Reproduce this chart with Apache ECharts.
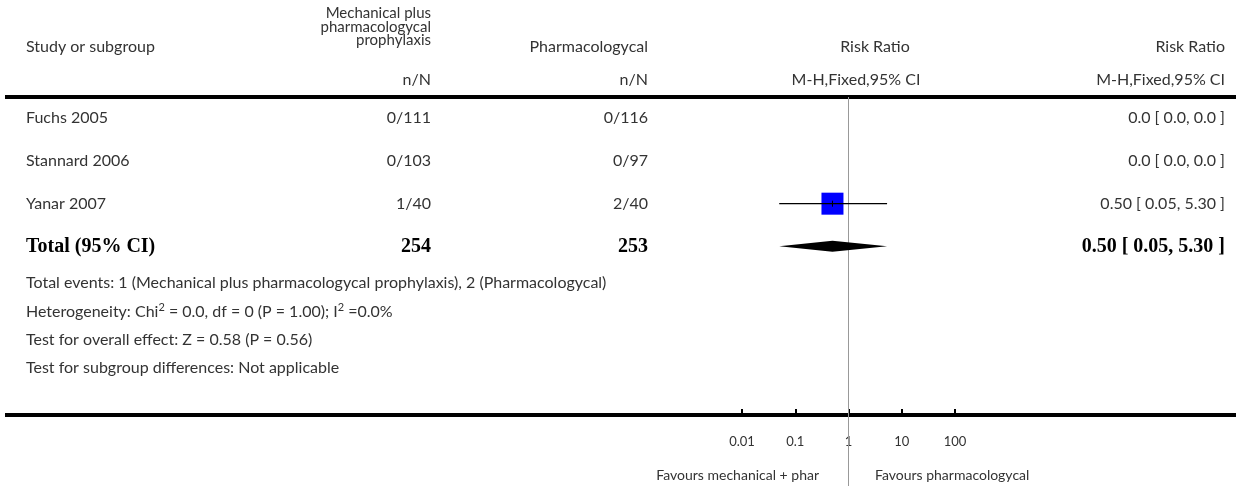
<!DOCTYPE html>
<html>
<head>
<meta charset="utf-8">
<script src="https://cdn.jsdelivr.net/npm/echarts@6/dist/echarts.min.js"></script>
<style>
  html, body { margin: 0; padding: 0; background: #fff; }
  #chart { width: 1236px; height: 486px; }
</style>
</head>
<body>
<div id="chart"></div>
<script>
// data
const studies = ["Fuchs 2005", "Stannard 2006", "Yanar 2007"];
const mechEvents = [0, 0, 1];
const mechTotal = [111, 103, 40];
const pharmEvents = [0, 0, 2];
const pharmTotal = [116, 97, 40];
const riskRatio = [null, null, 0.5];
const ciLow = [null, null, 0.05];
const ciHigh = [null, null, 5.3];

const totalMech = 254;
const totalPharm = 253;
const pooled = [0.5, 0.05, 5.3]; // estimate, low, high

const xTicks = [0.01, 0.1, 1, 10, 100];
const footnotes = [
  "Total events: 1 (Mechanical plus pharmacologycal prophylaxis), 2 (Pharmacologycal)",
  "Heterogeneity: Chi{sup|2} = 0.0, df = 0 (P = 1.00); I{sup|2} =0.0%",
  "Test for overall effect: Z = 0.58 (P = 0.56)",
  "Test for subgroup differences: Not applicable"
];

// layout
const FONT = "Lato";
const TXT = "#333";
const ROW_H = 42.67;
const GRID_TOP = 97;
const GRID_BOTTOM_Y = 415;
const colName = 26, colMech = 431, colPharm = 648, colCI = 1225;

function fmt(v, d) { return v == null ? "0.0" : v.toFixed(d); }
function ciLabel(e, l, h) {
  if (e == null) return "0.0 [ 0.0, 0.0 ]";
  return fmt(e, 2) + " [ " + fmt(l, 2) + ", " + fmt(h, 2) + " ]";
}

const rowData = studies.map((s, i) => [1, i + 0.5, i]);
const totalRow = studies.length + 0.5;
const forestData = [];
riskRatio.forEach((v, i) => {
  if (v != null) forestData.push([v, ciLow[i], ciHigh[i], i + 0.5]);
});

const chart = echarts.init(document.getElementById("chart"));

function txt(x, y, text, align, extra) {
  return {
    type: "text",
    x: x, y: y,
    style: Object.assign({
      text: text, fill: TXT, font: "16px " + FONT,
      textAlign: align || "left", textVerticalAlign: "middle"
    }, extra || {})
  };
}

const yMax = (GRID_BOTTOM_Y - GRID_TOP) / ROW_H;
const yEnd = (486 - GRID_TOP) / ROW_H;

const supRich = {
  rich: {
    sup: { fontSize: 11, fontFamily: FONT, fill: TXT, verticalAlign: "top", lineHeight: 18 }
  }
};

chart.setOption({
  animation: false,
  backgroundColor: "#fff",
  grid: { left: 742, right: 1236 - 955, top: GRID_TOP, bottom: 486 - GRID_BOTTOM_Y },
  xAxis: {
    type: "log",
    logBase: 10,
    position: "bottom",
    min: xTicks[0],
    max: xTicks[xTicks.length - 1],
    axisLine: { show: false, onZero: false },
    axisTick: { show: true, inside: true, length: 6, lineStyle: { color: "#000", width: 2 } },
    splitLine: { show: false },
    minorTick: { show: false },
    axisLabel: {
      margin: 20,
      color: TXT,
      fontFamily: FONT,
      fontSize: 13,
      formatter: (v) => String(v)
    }
  },
  yAxis: {
    type: "value",
    inverse: true,
    min: 0,
    max: yMax,
    show: false
  },
  graphic: [
    { type: "line", shape: { x1: 5, y1: 97, x2: 1236, y2: 97 }, style: { stroke: "#000", lineWidth: 4 } },
    { type: "line", shape: { x1: 5, y1: 415, x2: 1236, y2: 415 }, style: { stroke: "#000", lineWidth: 4 } },
    txt(colName, 47, "Study or subgroup"),
    { type: "text", x: colMech, y: 27, style: {
        text: "Mechanical plus\npharmacologycal\nprophylaxis", fill: TXT, font: "15px " + FONT,
        textAlign: "right", textVerticalAlign: "middle", lineHeight: 13.6 } },
    txt(colPharm, 47, "Pharmacologycal", "right"),
    txt(875, 47, "Risk Ratio", "center"),
    txt(colCI, 47, "Risk Ratio", "right"),
    txt(colMech, 80, "n/N", "right"),
    txt(colPharm, 80, "n/N", "right"),
    txt(856, 80, "M-H,Fixed,95% CI", "center"),
    txt(colCI, 80, "M-H,Fixed,95% CI", "right"),
    ...footnotes.map((f, i) => txt(colName, 283 + i * 28.4, f, "left", supRich)),
    txt(819, 475, "Favours mechanical + phar", "right", { font: "14px " + FONT }),
    txt(875, 475, "Favours pharmacologycal", "left", { font: "14px " + FONT })
  ],
  series: [
    {
      // reference line at RR = 1
      type: "custom",
      silent: true,
      clip: false,
      data: [[1, 0]],
      encode: { x: 0, y: 1 },
      renderItem: (params, api) => {
        const a = api.coord([api.value(0), 0]);
        const b = api.coord([api.value(0), yEnd]);
        return { type: "line", shape: { x1: a[0], y1: a[1], x2: b[0], y2: b[1] },
          style: { stroke: "#999", lineWidth: 1 } };
      },
      z: 1
    },
    {
      // study rows text
      type: "custom",
      silent: true,
      clip: false,
      data: rowData,
      encode: { x: 0, y: 1 },
      renderItem: (params, api) => {
        const i = api.value(2);
        const y = api.coord([1, api.value(1)])[1];
        return { type: "group", children: [
          txt(colName, y, studies[i]),
          txt(colMech, y, mechEvents[i] + "/" + mechTotal[i], "right"),
          txt(colPharm, y, pharmEvents[i] + "/" + pharmTotal[i], "right"),
          txt(colCI, y, ciLabel(riskRatio[i], ciLow[i], ciHigh[i]), "right")
        ] };
      }
    },
    {
      // total row text
      type: "custom",
      silent: true,
      clip: false,
      data: [[1, totalRow]],
      encode: { x: 0, y: 1 },
      renderItem: (params, api) => {
        const y = api.coord([1, api.value(1)])[1];
        const bold = { font: "bold 20px 'Liberation Serif'", fill: "#000" };
        return { type: "group", children: [
          txt(colName, y, "Total (95% CI)", "left", bold),
          txt(colMech, y, String(totalMech), "right", bold),
          txt(colPharm, y, String(totalPharm), "right", bold),
          txt(colCI, y, ciLabel(pooled[0], pooled[1], pooled[2]), "right", bold)
        ] };
      }
    },
    {
      // study CIs and boxes
      type: "custom",
      silent: true,
      data: forestData,
      encode: { x: [0, 1, 2], y: 3 },
      renderItem: (params, api) => {
        const row = api.value(3);
        const p = api.coord([api.value(0), row]);
        const l = api.coord([api.value(1), row]);
        const h = api.coord([api.value(2), row]);
        const s = 22;
        return { type: "group", children: [
          { type: "rect", shape: { x: p[0] - s / 2, y: p[1] - s / 2, width: s, height: s }, style: { fill: "#0000ff" } },
          { type: "line", shape: { x1: l[0], y1: p[1], x2: h[0], y2: p[1] }, style: { stroke: "#000", lineWidth: 1.2 } },
          { type: "line", shape: { x1: p[0], y1: p[1] - 3, x2: p[0], y2: p[1] + 3 }, style: { stroke: "#000", lineWidth: 1 } }
        ] };
      },
      z: 3
    },
    {
      // pooled diamond
      type: "custom",
      silent: true,
      data: [[pooled[0], pooled[1], pooled[2], totalRow]],
      encode: { x: [0, 1, 2], y: 3 },
      renderItem: (params, api) => {
        const row = api.value(3);
        const p = api.coord([api.value(0), row]);
        const l = api.coord([api.value(1), row]);
        const h = api.coord([api.value(2), row]);
        return { type: "polygon", shape: { points: [[l[0], p[1]], [p[0], p[1] - 5.5], [h[0], p[1]], [p[0], p[1] + 5.5]] },
          style: { fill: "#000" } };
      },
      z: 3
    }
  ]
});
</script>
</body>
</html>
